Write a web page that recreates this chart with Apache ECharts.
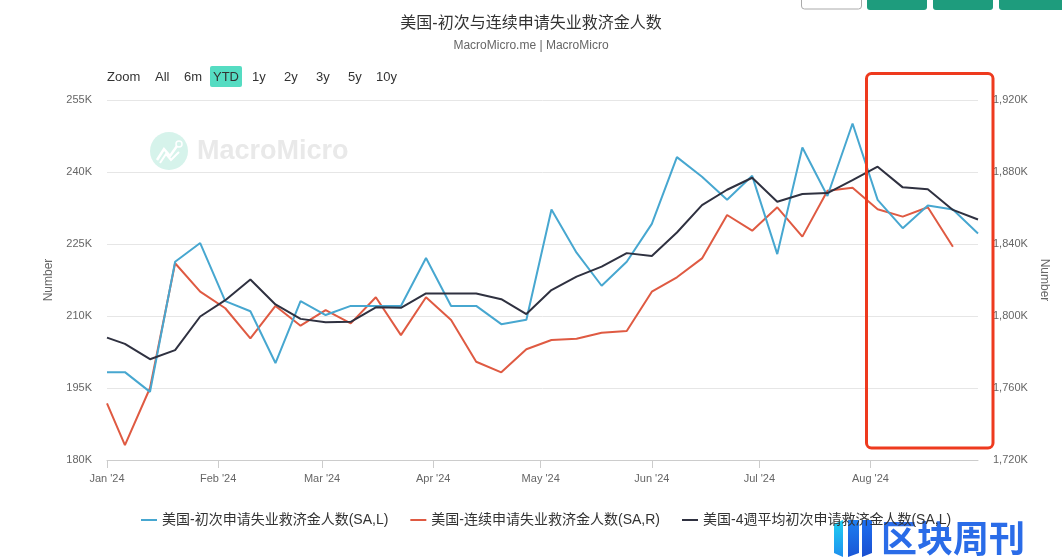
<!DOCTYPE html>
<html>
<head>
<meta charset="utf-8">
<script src="https://cdn.jsdelivr.net/npm/echarts@6/dist/echarts.min.js"></script>
<style>html,body{margin:0;padding:0;background:#fff}#c{width:1062px;height:560px}</style>
</head>
<body>
<div id="c"></div>
<script>
// ---- data (values in thousands) ----
const dates = ['2024-01-01','2024-01-06','2024-01-13','2024-01-20','2024-01-27','2024-02-03','2024-02-10','2024-02-17','2024-02-24','2024-03-02','2024-03-09','2024-03-16','2024-03-23','2024-03-30','2024-04-06','2024-04-13','2024-04-20','2024-04-27','2024-05-04','2024-05-11','2024-05-18','2024-05-25','2024-06-01','2024-06-08','2024-06-15','2024-06-22','2024-06-29','2024-07-06','2024-07-13','2024-07-20','2024-07-27','2024-08-03','2024-08-10','2024-08-17','2024-08-24','2024-08-31'];
const initialClaims = [198.3,198.3,194.2,221.3,225.2,213.1,211.0,200.2,213.1,210.2,212.1,212.1,212.1,222.1,212.1,212.1,208.3,209.2,232.2,223.2,216.3,221.3,229.2,243.1,239.0,234.2,239.2,222.9,245.1,235.0,250.1,234.2,228.3,233.0,232.2,227.2];
const continuingClaims = [1751.5,1728.3,1760.0,1829.3,1813.5,1804.3,1787.6,1805.6,1794.6,1803.3,1795.9,1810.4,1789.4,1810.4,1797.8,1774.6,1768.7,1781.5,1786.7,1787.4,1790.7,1791.7,1813.5,1821.5,1832.0,1856.1,1847.4,1860.4,1844.1,1869.6,1871.3,1859.3,1855.2,1860.4,1838.5,null];
const fourWeekAvg = [205.5,204.2,201.0,202.9,209.9,213.3,217.6,212.4,209.4,208.7,208.8,211.8,211.7,214.7,214.7,214.7,213.5,210.4,215.4,218.2,220.3,223.1,222.5,227.4,233.1,236.3,238.8,233.8,235.4,235.6,238.3,241.1,236.8,236.4,232.1,230.1];
const seriesNames = ['美国-初次申请失业救济金人数(SA,L)','美国-连续申请失业救济金人数(SA,R)','美国-4週平均初次申请救济金人数(SA,L)'];
const monthTicks = ['2024-01-01','2024-02-01','2024-03-01','2024-04-01','2024-05-01','2024-06-01','2024-07-01','2024-08-01'];
const monthLabels = ["Jan '24","Feb '24","Mar '24","Apr '24","May '24","Jun '24","Jul '24","Aug '24"];
const xRange = ['2024-01-01','2024-08-31'];
const leftTicks = {min:180, max:255, interval:15};
const rightTicks = {min:1720, max:1920, interval:40};
const zoomButtons = ['Zoom','All','6m','YTD','1y','2y','3y','5y','10y'];

const ts = s => { const p = s.split('-'); return Date.UTC(+p[0], +p[1]-1, +p[2]); };
const tickTs = monthTicks.map(ts);
const pair = arr => dates.map((d,i) => [ts(d), arr[i]]);

const FONT = "'Liberation Sans','Noto Sans CJK SC',sans-serif";
const chart = echarts.init(document.getElementById('c'), null, {renderer:'canvas'});

// zoom toolbar
const zoomX = [107,155,184,226,252,284,316,348,376];
const zoomGraphics = [];
zoomGraphics.push({type:'rect', shape:{x:210,y:66,width:32,height:21,r:2}, style:{fill:'#55dcc2'}, z:100});
zoomButtons.forEach((t,i)=>{
  zoomGraphics.push({type:'text', x:zoomX[i], y:77, style:{text:t, fill:'#333', font:'13px '+FONT, textVerticalAlign:'middle', textAlign: t==='YTD'?'center':'left'}, z:101});
});

chart.setOption({
  animation:false,
  textStyle:{fontFamily:FONT},
  title:{
    text:'美国-初次与连续申请失业救济金人数',
    subtext:'MacroMicro.me | MacroMicro',
    left:'center', top:11, itemGap:8,
    textStyle:{fontSize:16, fontWeight:'normal', color:'#333', fontFamily:FONT},
    subtextStyle:{fontSize:12, color:'#666', fontFamily:FONT}
  },
  legend:{
    left:136, top:508, itemWidth:16, itemHeight:2, itemGap:22, z:200, zlevel:1,
    icon:'rect',
    textStyle:{fontSize:14, color:'#333', fontFamily:FONT},
    data:seriesNames
  },
  grid:{left:107, right:84, top:100, bottom:100, containLabel:false},
  xAxis:{
    type:'value',
    min:ts(xRange[0]), max:ts(xRange[1]),
    axisLine:{show:true, lineStyle:{color:'#ccc'}},
    axisTick:{show:true, length:8, lineStyle:{color:'#ccc'}, customValues:tickTs},
    axisLabel:{color:'#666', fontSize:11, margin:13, customValues:tickTs,
      formatter:(v)=>{ const i = tickTs.indexOf(v); return i>=0 ? monthLabels[i] : ''; }},
    splitLine:{show:false}
  },
  yAxis:[{
    type:'value', min:leftTicks.min, max:leftTicks.max, interval:leftTicks.interval,
    name:'Number', nameLocation:'middle', nameGap:52, nameRotate:90,
    nameTextStyle:{color:'#666', fontSize:12},
    axisLine:{show:false}, axisTick:{show:false},
    axisLabel:{color:'#666', fontSize:11, margin:15, formatter:v=>v+'K'},
    splitLine:{lineStyle:{color:'#e6e6e6'}}
  },{
    type:'value', min:rightTicks.min, max:rightTicks.max, interval:rightTicks.interval,
    name:'Number', nameLocation:'middle', nameGap:56, nameRotate:-90,
    nameTextStyle:{color:'#666', fontSize:12},
    axisLine:{show:false}, axisTick:{show:false},
    axisLabel:{color:'#666', fontSize:11, margin:15, formatter:v=>v.toLocaleString('en-US')+'K'},
    splitLine:{show:false}
  }],
  series:[
    {name:seriesNames[0], type:'line', yAxisIndex:0, data:pair(initialClaims), symbol:'none', color:'#47a7d0', lineStyle:{width:2}, z:3},
    {name:seriesNames[1], type:'line', yAxisIndex:1, data:pair(continuingClaims), symbol:'none', color:'#df5a42', lineStyle:{width:2}, z:2},
    {name:seriesNames[2], type:'line', yAxisIndex:0, data:pair(fourWeekAvg), symbol:'none', color:'#2f3140', lineStyle:{width:2}, z:4}
  ],
  graphic:[
    // watermark
    {type:'circle', shape:{cx:169, cy:151, r:19}, style:{fill:'#d6f3eb'}, z:0},
    {type:'polyline', shape:{points:[[157,160],[164,149],[170,156],[177,146]]}, style:{stroke:'#fff', lineWidth:2.5, fill:null}, z:1},
    {type:'polyline', shape:{points:[[160,163],[166,154],[171,160],[179,152]]}, style:{stroke:'#fff', lineWidth:2, fill:null}, z:1},
    {type:'circle', shape:{cx:179, cy:144, r:3}, style:{fill:'none', stroke:'#fff', lineWidth:1.5}, z:1},
    {type:'text', x:197, y:152, style:{text:'MacroMicro', fill:'#e9e9e9', font:'bold 27px '+FONT, textVerticalAlign:'middle'}, z:0},
    // top-right buttons (cut off)
    {type:'rect', shape:{x:801.5,y:-6,width:60,height:15,r:3}, style:{fill:'#fff', stroke:'#aaa', lineWidth:1}, z:100},
    {type:'rect', shape:{x:867,y:-6,width:60,height:16,r:3}, style:{fill:'#1e9c7d'}, z:100},
    {type:'rect', shape:{x:933,y:-6,width:60,height:16,r:3}, style:{fill:'#1e9c7d'}, z:100},
    {type:'rect', shape:{x:999,y:-6,width:70,height:16,r:3}, style:{fill:'#1e9c7d'}, z:100},
    // red annotation box
    {type:'rect', shape:{x:866.5,y:73.5,width:126.5,height:374.5,r:5}, style:{fill:null, stroke:'#ee3a1e', lineWidth:3}, z:100},
    // bottom-right logo
    {type:'polygon', shape:{points:[[834,524],[843,520],[843,557],[834,553]]}, style:{fill:new echarts.graphic.LinearGradient(0,0,0,1,[{offset:0,color:'#1fd0f2'},{offset:1,color:'#1e90ee'}])}, z:0},
    {type:'polygon', shape:{points:[[848,520],[859,520],[859,553],[848,557]]}, style:{fill:new echarts.graphic.LinearGradient(0,0,0,1,[{offset:0,color:'#1e7ff0'},{offset:1,color:'#1a56d6'}])}, z:0},
    {type:'polygon', shape:{points:[[862,520],[872,520],[872,553],[862,557]]}, style:{fill:new echarts.graphic.LinearGradient(0,0,0,1,[{offset:0,color:'#1e6ff0'},{offset:1,color:'#1a4fd0'}])}, z:0},
    {type:'text', x:881, y:538, style:{text:'区块周刊', fill:'#2a6ce8', font:'bold 36px "Noto Sans CJK SC"', textVerticalAlign:'middle'}, z:0}
  ].concat(zoomGraphics)
});
</script>
</body>
</html>
